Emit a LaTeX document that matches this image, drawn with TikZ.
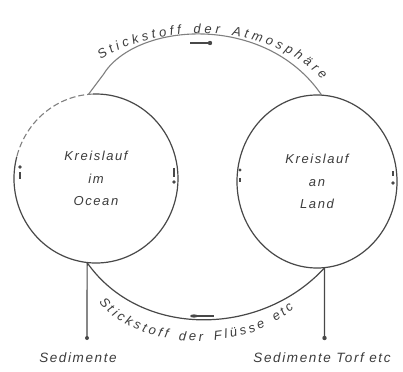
\documentclass[tikz,border=0pt]{standalone}
\usepackage{fontspec}
\setsansfont{Liberation Sans}
\newfontfamily\handfam[LetterSpace=12]{Liberation Sans}
\usetikzlibrary{shapes.geometric,decorations.text}
\definecolor{ink}{HTML}{484848}
\definecolor{txt}{HTML}{3C3C3C}
\definecolor{faint}{HTML}{808080}
\newcommand\lblfont{\handfam\itshape\fontsize{13}{15}\selectfont}
\begin{document}
\begin{tikzpicture}[x=1pt,y=1pt,
  cyc/.style={ellipse, inner sep=0pt, align=center, text=txt,
    font=\handfam\itshape\fontsize{13}{22.5}\selectfont},
  inkline/.style={draw=ink, line width=1.2pt},
  arcline/.style={draw=faint, line width=1.1pt},
  lbl/.style={inner sep=0pt, text=txt, font=\handfam\itshape\fontsize{13.5}{16}\selectfont},
  tick/.style={draw=ink, line width=1.1pt},
  dotmark/.style={fill=ink}
]
\useasboundingbox (0,0) rectangle (403,-371);
\fill[white] (0,0) rectangle (403,-371);

% the two cycles
\node[cyc, minimum width=164pt, minimum height=169pt] (ocean) at (96,-178.5) {Kreislauf\\im\\Ocean};
\node[cyc, minimum width=160pt, minimum height=173pt] (land) at (317,-181.5) {Kreislauf\\an\\Land};

\draw[inkline] ([shift={(165:82pt and 84.5pt)}]ocean.center)
  arc[start angle=165, end angle=452, x radius=82pt, y radius=84.5pt];
\draw[arcline, dash pattern=on 6pt off 3pt] ([shift={(92:82pt and 84.5pt)}]ocean.center)
  arc[start angle=92, end angle=165, x radius=82pt, y radius=84.5pt];
\draw[inkline] (land.center) ellipse [x radius=80pt, y radius=86.5pt];

% direction marks on the circles
\draw[tick] (20,-172) -- (20,-179);
\fill[dotmark] (20,-167) circle (1.9pt);
\draw[tick] (174,-168) -- (174,-177);
\fill[dotmark] (174,-182) circle (1.9pt);
\fill[dotmark] (240,-170) circle (1.7pt);
\draw[tick] (240,-178) -- (240,-182);
\draw[tick] (393,-171) -- (393,-176);
\fill[dotmark] (393,-183) circle (1.9pt);

% atmosphere arc
\coordinate (tbend) at (103,-75);
\draw[arcline] (ocean.95) -- (tbend) .. controls (135,-22) and (265,-12) .. (land.87);
\path[decorate, decoration={text along path, text color=txt,
    text={|\lblfont|Stickstoff der Atmosphäre}, text align={fit to path}}]
  (101,-60) .. controls (150,-26) and (262,-16) .. (322,-80);
\coordinate (au1) at (190,-43);
\coordinate (au2) at (210,-43);
\draw[tick] (au1) -- (au2);
\fill[dotmark] (au2) circle (2.2pt);

% river arc
\draw[inkline] (ocean.264) .. controls (140,-338) and (260,-338) .. (land.275);
\path[decorate, decoration={text along path, text color=txt,
    text={|\lblfont|Stickstoff der Flüsse etc}, text align={fit to path}}]
  (99,-302) .. controls (135,-350) and (242,-356) .. (294,-308);
\coordinate (ab1) at (194,-316);
\coordinate (ab2) at (214,-316);
\draw[tick] (ab1) -- (ab2);
\fill[dotmark] (ab1) ellipse [x radius=4pt, y radius=1.6pt];

% sediment lines
\coordinate (sl) at (87,-338);
\coordinate (sr) at (324.5,-338);
\draw[inkline] (ocean.264) -- (sl);
\fill[dotmark] (sl) circle (2pt);
\draw[inkline] (land.275) -- (sr);
\fill[dotmark] (sr) circle (2.2pt);

\node[lbl] (sedl) at (78,-358) {Sedimente};
\node[lbl] (sedr) at (322,-358) {Sedimente Torf etc};
\end{tikzpicture}
\end{document}
